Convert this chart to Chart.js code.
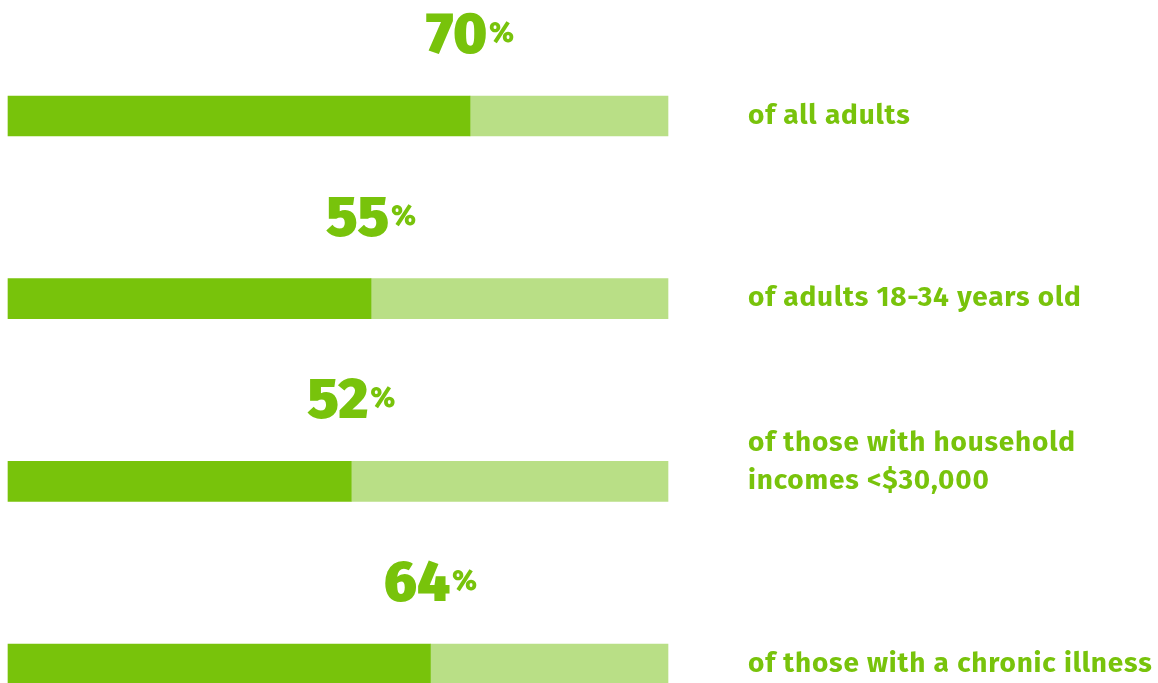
<!DOCTYPE html>
<html>
<head>
<meta charset="utf-8">
<script src="https://cdn.jsdelivr.net/npm/chart.js@4/dist/chart.umd.min.js"></script>
<style>
  html, body { margin: 0; padding: 0; background: #fff; }
  #wrap { width: 1158px; height: 683px; }
</style>
</head>
<body>
<div id="wrap"><canvas id="barChart" width="1158" height="683"></canvas></div>
<script>
// Shares of each group, in percent
const groups = ['all', '18-34', 'low income', 'chronic'];
const shares = [70, 55, 52, 64];
const remainder = shares.map(v => 100 - v);
// Text printed to the right of each bar (one array entry per line)
const captions = [
    ['of all adults'],
    ['of adults 18-34 years old'],
    ['of those with household', 'incomes <$30,000'],
    ['of those with a chronic illness']
];

const GREEN = '#78c30b';
const LIGHT = '#b9df86';

// Draws the big percentage above each bar end and the caption on the right
const labelPlugin = {
    id: 'barLabels',
    afterDatasetsDraw(chart) {
        const ctx = chart.ctx;
        const meta = chart.getDatasetMeta(0);
        ctx.save();
        ctx.fillStyle = GREEN;
        meta.data.forEach((bar, i) => {
            const num = String(shares[i]);
            ctx.letterSpacing = '0px';
            ctx.font = '900 57px "Fira Sans", Lato, sans-serif';
            const wNum = ctx.measureText(num).width;
            ctx.font = '900 28px "Fira Sans", Lato, sans-serif';
            const wPct = ctx.measureText('%').width;
            const total = wNum + 2 + wPct;
            const left = bar.x - total / 2;
            const base = bar.y - 63;
            ctx.textAlign = 'left';
            ctx.textBaseline = 'alphabetic';
            ctx.font = '900 57px "Fira Sans", Lato, sans-serif';
            ctx.fillText(num, left, base);
            ctx.font = '900 28px "Fira Sans", Lato, sans-serif';
            ctx.fillText('%', left + wNum + 2, base - 11);

            // caption: last line sits on the bar's centre line
            ctx.font = 'bold 28px "Fira Sans", Lato, sans-serif';
            ctx.letterSpacing = '0.8px';
            ctx.textBaseline = 'middle';
            const lines = captions[i];
            lines.forEach((line, j) => {
                const y = bar.y - (lines.length - 1 - j) * 38;
                ctx.fillText(line, 748, y);
            });
        });
        ctx.restore();
    }
};

const ctx = document.getElementById('barChart').getContext('2d');
new Chart(ctx, {
    type: 'bar',
    data: {
        labels: groups,
        datasets: [
            { data: shares, backgroundColor: GREEN, barThickness: 40, clip: false },
            { data: remainder, backgroundColor: LIGHT, barThickness: 40, clip: false }
        ]
    },
    options: {
        indexAxis: 'y',
        responsive: false,
        animation: false,
        layout: { padding: { left: 8, right: 490, top: 116, bottom: 19 } },
        scales: {
            x: { stacked: true, min: 0, max: 100, display: false },
            y: { stacked: true, offset: false, display: false }
        },
        plugins: {
            legend: { display: false },
            tooltip: { enabled: false }
        }
    },
    plugins: [labelPlugin]
});
</script>
</body>
</html>
